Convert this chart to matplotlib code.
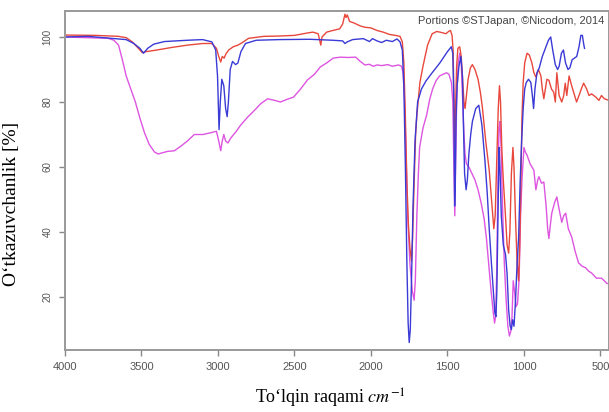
import matplotlib
matplotlib.use("Agg")
import matplotlib.pyplot as plt

plt.rcParams['mathtext.fontset'] = 'stix'

# IR spektrlari: to'lqin raqami (cm-1) va o'tkazuvchanlik (%)
blue_wn = [4000, 3850, 3700, 3600, 3550, 3510, 3487, 3460, 3420, 3350, 3200, 3100, 3040, 3015,
           3003, 2993, 2985, 2975, 2962, 2950, 2940, 2932, 2920, 2905, 2885, 2870, 2850, 2820,
           2750, 2600, 2400, 2250, 2185, 2170, 2155, 2120, 2050, 2010, 1990, 1960, 1930, 1900,
           1860, 1830, 1810, 1795, 1785, 1775, 1765, 1757, 1750, 1743, 1735, 1725, 1712, 1695,
           1670, 1640, 1600, 1550, 1500, 1475, 1465, 1458, 1453, 1449, 1444, 1437, 1425, 1412,
           1402, 1395, 1388, 1378, 1370, 1360, 1348, 1337, 1315, 1295, 1275, 1255, 1240, 1227,
           1212, 1200, 1190, 1183, 1177, 1170, 1163, 1157, 1148, 1135, 1120, 1110, 1100, 1090,
           1082, 1074, 1065, 1055, 1045, 1035, 1025, 1015, 1005, 995, 985, 970, 955, 945, 937,
           928, 915, 900, 880, 860, 840, 825, 812, 795, 780, 770, 755, 742, 728, 712, 700, 685,
           670, 655, 640, 628, 618, 610, 604]
blue_t = [100, 100.2, 99.6, 99.2, 98, 96.5, 95, 96.5, 97.8, 98.6, 99, 99.2, 98.5, 96,
          88, 71.5, 80, 87, 85, 78, 75.5, 80, 90, 92.5, 91.5, 92, 95.5, 98,
          99, 99.2, 99.3, 99, 98.8, 98, 98.5, 99.2, 99.5, 98.6, 99.5, 98.8, 98.3, 99,
          98.6, 99.4, 98.5, 96, 85, 60, 30, 12, 6, 10, 25, 48, 68, 80,
          84, 86.5, 89, 92, 95.5, 97, 95, 80, 48, 55, 75, 85, 91, 94,
          88, 72, 58, 53, 56, 64, 70, 74, 78, 79, 73, 62, 52, 41,
          30, 22, 15, 14, 22, 45, 66, 60, 45, 36, 33, 27, 16, 11,
          10, 13, 11, 19, 30, 38, 55, 68, 78, 84, 86, 87, 86, 82, 78,
          84, 89, 90.5, 94, 96.5, 99, 100, 96, 91.5, 90, 91, 95, 96, 92, 90, 90.5, 93,
          93.5, 94, 97, 100.5, 100.5, 98, 96.5]

red_wn = [4000, 3800, 3650, 3600, 3560, 3520, 3495, 3470, 3400, 3300, 3200, 3100, 3040, 3010,
          2995, 2982, 2972, 2960, 2948, 2930, 2900, 2870, 2840, 2800, 2700, 2600, 2500, 2420,
          2380, 2345, 2335, 2328, 2320, 2290, 2250, 2205, 2185, 2170, 2163, 2155, 2140, 2110,
          2070, 2040, 2000, 1960, 1920, 1880, 1840, 1810, 1795, 1785, 1775, 1765, 1755, 1745,
          1735, 1728, 1718, 1708, 1700, 1680, 1660, 1630, 1600, 1570, 1540, 1510, 1490, 1480,
          1470, 1463, 1457, 1452, 1447, 1440, 1432, 1420, 1410, 1400, 1392, 1385, 1378, 1365,
          1350, 1337, 1320, 1300, 1285, 1272, 1250, 1227, 1212, 1197, 1188, 1178, 1168, 1160,
          1153, 1145, 1135, 1122, 1110, 1100, 1092, 1082, 1072, 1065, 1055, 1045, 1035, 1028,
          1020, 1013, 1005, 995, 980, 965, 948, 935, 922, 905, 889, 880, 870, 860, 850, 837,
          820, 805, 795, 785, 770, 753, 740, 730, 720, 705, 688, 675, 656, 640, 625, 610,
          590, 575, 558, 530, 510, 493, 475, 444]
red_t = [100.6, 100.5, 100.2, 99.8, 98.5, 96.5, 95.2, 95.5, 96, 96.8, 97.5, 98, 98, 96.5,
         94, 92.3, 94, 93.5, 94.8, 96, 97, 97.5, 98.3, 99.6, 100.2, 100.3, 100.5, 101.2,
         101.5, 101, 99, 97.5, 100, 101.5, 102, 102.5, 104, 107, 106, 106.8, 104.8, 104.3,
         103.4, 103, 102.8, 102, 101.5, 100.8, 100.5, 100.2, 98.5, 92, 75, 55, 42, 35,
         31, 38, 55, 70, 76, 86, 91, 97.5, 101, 101.7, 101.4, 101, 101.8, 102,
         100.5, 96, 80, 66, 78, 91, 96.5, 97, 94, 86, 80, 78, 81, 87,
         90.5, 91.5, 90, 87, 83, 78.5, 68, 59, 50, 41, 45, 62, 78, 85,
         80, 66, 56, 46, 36, 33.5, 40, 58, 66, 60, 44, 31, 25, 35,
         55, 75, 86, 92, 95, 94.5, 92, 89, 87.7, 90, 88, 84, 81, 84, 87, 86.7,
         84, 83, 80, 89, 82, 80, 82, 85.8, 82, 88, 85, 83, 80, 82, 84, 85.8,
         84, 82, 82.5, 81.5, 80.5, 82, 81, 80.5]

mag_wn = [4000, 3850, 3720, 3680, 3650, 3625, 3600, 3570, 3540, 3510, 3480, 3450, 3415, 3390,
          3370, 3330, 3285, 3240, 3200, 3155, 3100, 3050, 3010, 2995, 2982, 2972, 2962, 2950,
          2935, 2915, 2880, 2850, 2805, 2760, 2720, 2675, 2630, 2591, 2550, 2506, 2460, 2415,
          2370, 2331, 2290, 2247, 2200, 2150, 2100, 2070, 2040, 2010, 1985, 1960, 1930, 1890,
          1860, 1820, 1800, 1790, 1780, 1770, 1760, 1745, 1730, 1718, 1710, 1700, 1690, 1682,
          1660, 1636, 1615, 1597, 1575, 1552, 1530, 1506, 1490, 1474, 1465, 1458, 1452, 1447,
          1440, 1430, 1420, 1410, 1400, 1392, 1385, 1376, 1360, 1340, 1320, 1300, 1280, 1260,
          1245, 1230, 1215, 1200, 1192, 1185, 1178, 1170, 1163, 1157, 1150, 1140, 1128, 1115,
          1105, 1095, 1086, 1078, 1070, 1062, 1052, 1042, 1032, 1022, 1013, 1000, 990, 980,
          960, 935, 922, 910, 902, 885, 870, 855, 845, 837, 828, 818, 800, 785, 770, 753,
          740, 727, 710, 688, 665, 643, 620, 597, 578, 558, 540, 526, 493, 475, 461, 444]
mag_t = [100, 99.8, 99.6, 99, 97.5, 93, 88, 84, 80, 75, 70.5, 67, 64.6, 64,
         64.3, 64.8, 65, 66.5, 68, 70, 70, 70.5, 71, 68, 65, 68, 70, 68,
         67.4, 69, 71, 73, 75.4, 77.5, 79.5, 81, 80.5, 80, 80.8, 81.5, 84, 86.8,
         88.5, 90.8, 92, 93.5, 93.8, 93.7, 93.8, 92.5, 91.4, 91.6, 91, 91.4, 91.2, 91.5,
         91, 91.4, 91, 89, 80, 62, 45, 30, 22, 19, 25, 45, 58, 66,
         72, 76, 81, 84, 86.5, 88, 88.5, 89, 88.5, 86, 80, 60, 45, 60,
         80, 92, 95, 92, 80, 70, 64, 61, 60, 58, 56, 53, 49, 44,
         38, 30, 22, 15, 12, 14, 28, 55, 72, 74, 67, 48, 30, 18,
         11, 8, 9.5, 14, 25, 22, 17, 18, 25.2, 45, 56, 66, 64.5, 63.7,
         61, 59, 53, 56, 57, 55, 55.4, 48, 41, 38, 42, 45.8, 49, 50.8, 47, 43,
         45, 45.8, 41, 38.5, 34, 30.5, 29.5, 29, 28, 27.4, 26.5, 25.8, 25.8, 25, 24.3, 24]

xticks = [4000, 3500, 3000, 2500, 2000, 1500, 1000, 500]
yticks = [20, 40, 60, 80, 100]

fig = plt.figure(figsize=(6.09, 4.12), dpi=100)
ax = fig.add_axes([65 / 609, 1 - 350 / 412, 544 / 609, 339 / 412])

ax.plot(mag_wn, mag_t, color='#dd55e0', lw=1.0)
ax.plot(red_wn, red_t, color='#e8483c', lw=1.0)
ax.plot(blue_wn, blue_t, color='#3a3ad6', lw=1.0)

ax.set_xlim(4000, 444)
ax.set_ylim(3.7, 108)
ax.set_xticks(xticks)
ax.set_yticks(yticks)
ax.set_xticklabels([str(v) for v in xticks], fontsize=8, family='Liberation Sans', color='#555555')
ax.set_yticklabels([str(v) for v in yticks], fontsize=7, family='Liberation Sans', color='#555555',
                   rotation=90, va='center')
ax.tick_params(axis='both', direction='out', length=4, width=1, color='#888888', pad=5)

for s in ax.spines.values():
    s.set_color('#999999')
    s.set_linewidth(1.4)

ax.set_xlabel('To‘lqin raqami $cm^{-1}$', fontsize=13, family='Liberation Serif')
ax.set_ylabel('O‘tkazuvchanlik [%]', fontsize=14, family='Liberation Serif')
ax.xaxis.set_label_coords(0.487, -0.11)
ax.yaxis.set_label_coords(-0.083, 0.43)

fig.text(418 / 609, 1 - 21 / 412, 'Portions ©STJapan, ©Nicodom, 2014', fontsize=8,
         family='Liberation Sans', color='#444444', ha='left', va='center')

fig.savefig('out.png', dpi=100)
